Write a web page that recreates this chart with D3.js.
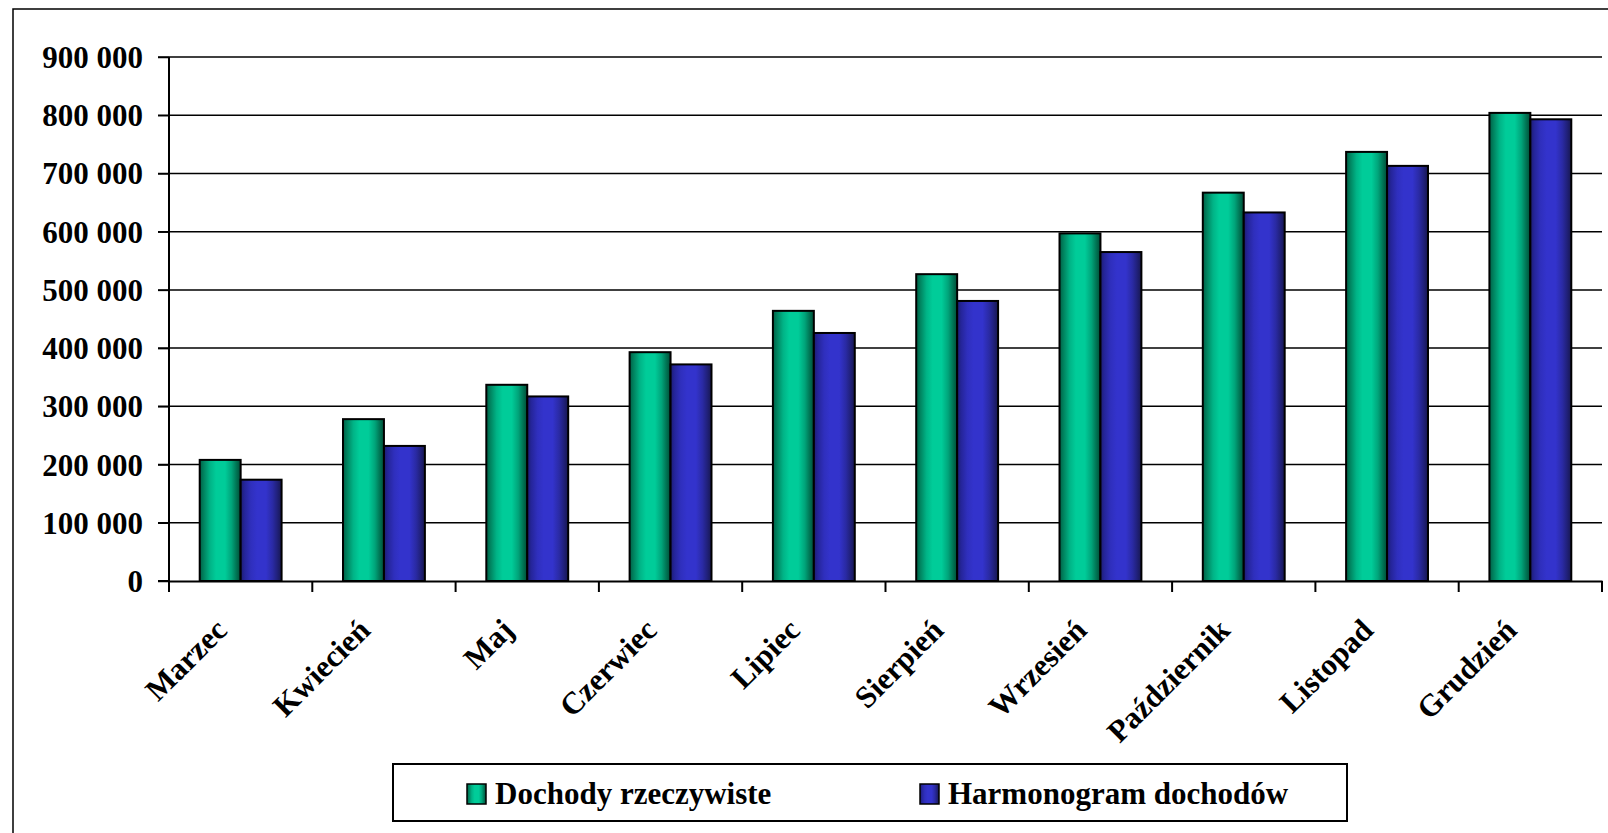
<!DOCTYPE html>
<html>
<head>
<meta charset="utf-8">
<script src="https://cdn.jsdelivr.net/npm/d3@7"></script>
<style>
  html, body { margin: 0; padding: 0; background: #ffffff; }
  svg { display: block; }
  text { font-family: "Liberation Serif", "Times New Roman", serif; font-weight: bold; fill: #000; }
</style>
</head>
<body>
<svg id="chart" width="1608" height="833"></svg>
<script>
const categories = ["Marzec", "Kwiecień", "Maj", "Czerwiec", "Lipiec", "Sierpień", "Wrzesień", "Październik", "Listopad", "Grudzień"];
const dochodyRzeczywiste = [208000, 278000, 337000, 393000, 464000, 527000, 597000, 667000, 737000, 804000];
const harmonogramDochodow = [174000, 232000, 317000, 372000, 426000, 481000, 565000, 633000, 713000, 793000];
const seriesNames = ["Dochody rzeczywiste", "Harmonogram dochodów"];
const yTicks = [0, 100000, 200000, 300000, 400000, 500000, 600000, 700000, 800000, 900000];

const svg = d3.select("#chart");
const W = 1608, H = 833;
const plot = { left: 169, right: 1602, top: 57, bottom: 581 };

// gradients
const defs = svg.append("defs");
const gradSpecs = [
  { id: "gGreen", stops: [[0, "#005f46"], [0.1, "#00835f"], [0.25, "#00b386"], [0.4, "#00cc99"], [0.62, "#00cc99"], [0.78, "#00a47a"], [0.9, "#007353"], [1, "#004d38"]] },
  { id: "gBlue", stops: [[0, "#1c1c70"], [0.1, "#25259a"], [0.25, "#2f2fbd"], [0.4, "#3333cc"], [0.62, "#3333cc"], [0.78, "#2a2aa4"], [0.9, "#202078"], [1, "#17174f"]] }
];
gradSpecs.forEach(g => {
  const lg = defs.append("linearGradient").attr("id", g.id).attr("x1", "0").attr("x2", "1").attr("y1", "0").attr("y2", "0");
  g.stops.forEach(s => lg.append("stop").attr("offset", s[0]).attr("stop-color", s[1]));
});
const fills = ["url(#gGreen)", "url(#gBlue)"];

// outer frame (right/bottom edges outside the view)
svg.append("rect").attr("x", 13).attr("y", 9).attr("width", W + 20).attr("height", H + 20)
  .attr("fill", "none").attr("stroke", "#000").attr("stroke-width", 1.5);

const x0 = d3.scaleBand().domain(categories).range([plot.left, plot.right]).paddingInner(0).paddingOuter(0);
const barW = x0.bandwidth() / 3.5;
const x1 = d3.scaleBand().domain([0, 1]).range([0, barW * 2]);
const y = d3.scaleLinear().domain([0, 900000]).range([plot.bottom, plot.top]);

// gridlines
svg.append("g").selectAll("line").data(yTicks.filter(d => d > 0)).join("line")
  .attr("x1", plot.left - 11).attr("x2", plot.right)
  .attr("y1", d => y(d)).attr("y2", d => y(d))
  .attr("stroke", "#000").attr("stroke-width", 1.5);

// y axis
const fmt = d => d3.format(",")(d).replace(/,/g, " ");
const yAxis = d3.axisLeft(y).tickValues(yTicks).tickSize(11).tickFormat(fmt);
const gy = svg.append("g").attr("transform", `translate(${plot.left},0)`).call(yAxis);
gy.select(".domain").attr("stroke", "#000").attr("stroke-width", 2).attr("d", `M-11,${plot.bottom}H0V${plot.top}`);
gy.selectAll(".tick line").attr("stroke", "#000").attr("stroke-width", 1.5);
gy.selectAll(".tick text").attr("x", -26).attr("dy", "0.34em")
  .style("font-size", "31px").style("font-family", "'Liberation Serif', serif").style("font-weight", "bold");

// bars
const groups = svg.append("g").selectAll("g").data(categories).join("g")
  .attr("transform", d => `translate(${x0(d) + (x0.bandwidth() - barW * 2) / 2},0)`);
groups.selectAll("rect").data((d, i) => [dochodyRzeczywiste[i], harmonogramDochodow[i]].map((v, s) => ({ v, s })))
  .join("rect")
  .attr("x", d => x1(d.s)).attr("width", x1.bandwidth())
  .attr("y", d => y(d.v)).attr("height", d => y(0) - y(d.v))
  .attr("fill", d => fills[d.s]).attr("stroke", "#000").attr("stroke-width", 2);

// x axis
const xAxis = d3.axisBottom(x0).tickSize(0).tickFormat("");
const gx = svg.append("g").attr("transform", `translate(0,${plot.bottom})`).call(xAxis);
gx.select(".domain").attr("stroke", "#000").attr("stroke-width", 2);
const boundaries = categories.map(c => x0(c)).concat([plot.right]);
svg.append("g").selectAll("line").data(boundaries).join("line")
  .attr("x1", d => d).attr("x2", d => d).attr("y1", plot.bottom).attr("y2", plot.bottom + 11)
  .attr("stroke", "#000").attr("stroke-width", 2);

// x labels rotated
svg.append("g").selectAll("text").data(categories).join("text")
  .attr("text-anchor", "end")
  .attr("transform", d => `translate(${x0(d) + x0.bandwidth() / 2 - 12},632) rotate(-45)`)
  .style("font-size", "31px")
  .text(d => d);

// legend
const leg = svg.append("g");
leg.append("rect").attr("x", 393).attr("y", 764).attr("width", 954).attr("height", 57)
  .attr("fill", "#fff").attr("stroke", "#000").attr("stroke-width", 2);
const legItems = [{ x: 467 }, { x: 920 }];
legItems.forEach((it, i) => {
  leg.append("rect").attr("x", it.x).attr("y", 784).attr("width", 19).attr("height", 20)
    .attr("fill", fills[i]).attr("stroke", "#000").attr("stroke-width", 1.5);
  leg.append("text").attr("x", it.x + 28).attr("y", 804).style("font-size", "31px").text(seriesNames[i]);
});
</script>
</body>
</html>
